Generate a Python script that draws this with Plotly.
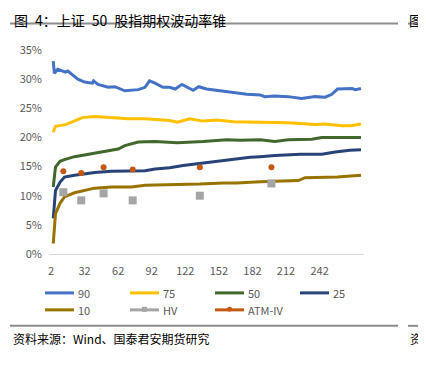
import plotly.graph_objects as go

# ---------------- data (values in %) ----------------
x90 = [4, 5, 8, 15, 17, 26, 32, 39, 40, 44, 53, 59, 68, 80, 86, 90, 95, 102, 108, 113, 119, 129, 134, 141,
       153, 165, 177, 189, 193, 202, 214, 226, 238, 247, 253, 258, 265, 271, 274, 279]
v90 = [33.1, 31.0, 31.7, 31.2, 31.4, 30.0, 29.5, 29.3, 29.7, 29.1, 28.6, 28.7, 28.0, 28.2, 28.6, 29.7, 29.3,
       28.6, 28.6, 28.3, 29.1, 28.1, 28.7, 28.3, 28.0, 27.7, 27.4, 27.3, 27.0, 27.1, 27.0, 26.7, 27.0, 26.9,
       27.4, 28.3, 28.4, 28.4, 28.2, 28.4]

x75 = [4, 6, 15, 24, 30, 41, 56, 71, 86, 108, 115, 126, 138, 150, 165, 189, 214, 238, 247, 262, 270, 279]
v75 = [20.9, 21.9, 22.2, 22.9, 23.4, 23.6, 23.4, 23.2, 23.2, 22.9, 22.6, 23.2, 22.8, 23.0, 22.7, 22.6, 22.5,
       22.2, 22.3, 22.0, 22.0, 22.3]

x50 = [4, 6, 10, 14, 23, 32, 41, 56, 62, 68, 75, 80, 95, 115, 138, 159, 171, 189, 202, 214, 235, 244, 279]
v50 = [11.5, 14.9, 15.9, 16.2, 16.7, 17.0, 17.3, 17.8, 18.0, 18.6, 18.9, 19.2, 19.3, 19.1, 19.3, 19.6, 19.5,
       19.6, 19.3, 19.6, 19.7, 20.0, 20.0]

x25 = [4, 6, 10, 14, 23, 32, 41, 56, 71, 86, 95, 108, 120, 132, 150, 162, 180, 189, 202, 225, 244, 256, 269, 279]
v25 = [6.1, 10.9, 12.3, 13.2, 13.5, 13.8, 14.0, 14.2, 14.3, 14.3, 14.6, 14.8, 15.2, 15.5, 15.9, 16.2, 16.6,
       16.7, 16.9, 17.1, 17.1, 17.5, 17.8, 17.9]

x10 = [4, 6, 10, 14, 23, 32, 41, 56, 74, 86, 115, 135, 156, 168, 189, 202, 223, 229, 244, 258, 279]
v10 = [1.8, 6.9, 8.7, 9.8, 10.5, 10.9, 11.3, 11.5, 11.5, 11.8, 11.9, 12.0, 12.2, 12.2, 12.4, 12.5, 12.6,
       13.1, 13.2, 13.2, 13.5]

x_pts = [13, 29, 49, 75, 135, 199]
hv = [10.6, 9.2, 10.4, 9.2, 10.0, 12.1]
atm_iv = [14.2, 13.9, 14.9, 14.5, 14.9, 14.9]

x_ticks = [2, 32, 62, 92, 122, 152, 182, 212, 242]
y_ticks = [0, 5, 10, 15, 20, 25, 30, 35]

series_names = ["90", "75", "50", "25", "10", "HV", "ATM-IV"]

title_text = "图\u20024：上证\u200250\u2002股指期权波动率锥"
source_text = "资料来源：Wind、国泰君安期货研究"

# ---------------- styles ----------------
FONT = "Noto Sans CJK SC"
OFF = 8                      # page body margin offset
W, H = 426 - OFF, 365 - OFF
ML, MT = 49 - OFF, 49.5 - OFF
PW, PH = 315, 204.5
MR, MB = W - ML - PW, H - MT - PH
COLORS = {"90": "#4472C4", "75": "#FFC000", "50": "#43682B", "25": "#264478",
          "10": "#997300", "HV": "#A5A5A5", "ATM-IV": "#C65911"}

def px2paper_x(px):
    return (px - OFF - ML) / PW

def py2paper_y(py):
    return 1 - (py - OFF - MT) / PH

fig = go.Figure()

for name, xs, ys in [("90", x90, v90), ("75", x75, v75), ("50", x50, v50),
                     ("25", x25, v25), ("10", x10, v10)]:
    fig.add_trace(go.Scatter(x=xs, y=ys, name=name, mode="lines",
                             line=dict(color=COLORS[name], width=3)))

fig.add_trace(go.Scatter(x=x_pts, y=hv, name="HV", mode="markers",
                         marker=dict(symbol="square", size=8, color=COLORS["HV"])))
fig.add_trace(go.Scatter(x=x_pts, y=atm_iv, name="ATM-IV", mode="markers",
                         marker=dict(symbol="circle", size=6, color=COLORS["ATM-IV"])))

fig.update_layout(
    width=W, height=H,
    margin=dict(l=ML, r=MR, t=MT, b=MB, autoexpand=False),
    paper_bgcolor="white", plot_bgcolor="white",
    font=dict(family=FONT, size=11, color="#595959"),
    showlegend=False,
    xaxis=dict(range=[0.2, 281.7], tickmode="array", tickvals=x_ticks,
               ticktext=[str(t) for t in x_ticks], showgrid=False, zeroline=False,
               showline=True, linecolor="#D9D9D9", linewidth=1, ticks="",
               ticklabelstandoff=7,
               tickfont=dict(size=11, color="#595959")),
    yaxis=dict(range=[0, 35], tickmode="array", tickvals=y_ticks,
               ticktext=[f"{t}%" for t in y_ticks], showgrid=False, zeroline=False,
               showline=False, ticks="", ticklabelstandoff=6,
               tickfont=dict(size=11, color="#595959")),
)

# ---------------- manual legend (Excel-like grid) ----------------
leg_pos = [(45, 293), (130, 293), (215, 293), (300, 293),
           (45, 310), (130, 310), (215, 310)]
for name, (lx, ly) in zip(series_names, leg_pos):
    col = COLORS[name]
    fig.add_shape(type="line", xref="paper", yref="paper",
                  x0=px2paper_x(lx), x1=px2paper_x(lx + 29),
                  y0=py2paper_y(ly), y1=py2paper_y(ly),
                  line=dict(color=col, width=3))
    if name == "HV":
        fig.add_shape(type="rect", xref="paper", yref="paper",
                      x0=px2paper_x(lx + 12), x1=px2paper_x(lx + 17),
                      y0=py2paper_y(ly - 3), y1=py2paper_y(ly + 2),
                      line=dict(width=0), fillcolor=col)
    if name == "ATM-IV":
        fig.add_shape(type="circle", xref="paper", yref="paper",
                      x0=px2paper_x(lx + 12), x1=px2paper_x(lx + 17),
                      y0=py2paper_y(ly - 3), y1=py2paper_y(ly + 2),
                      line=dict(width=0), fillcolor=col)
    fig.add_annotation(text=name, xref="paper", yref="paper",
                       x=px2paper_x(lx + 31), y=py2paper_y(ly), xanchor="left", yanchor="middle",
                       showarrow=False, font=dict(family=FONT, size=11, color="#595959"))

# ---------------- title, source, separator rules ----------------
fig.add_annotation(text=title_text, xref="paper", yref="paper",
                   x=px2paper_x(13), y=py2paper_y(8), xanchor="left", yanchor="top",
                   borderpad=0, showarrow=False,
                   font=dict(family=FONT, size=14, color="#000000"))
fig.add_annotation(text="图", xref="paper", yref="paper",
                   x=px2paper_x(408), y=py2paper_y(8), xanchor="left", yanchor="top",
                   borderpad=0, showarrow=False,
                   font=dict(family=FONT, size=13.5, color="#000000"))
fig.add_annotation(text=source_text, xref="paper", yref="paper",
                   x=px2paper_x(11), y=py2paper_y(339), xanchor="left", yanchor="middle",
                   showarrow=False, font=dict(family=FONT, size=12, color="#000000"))
fig.add_annotation(text="资", xref="paper", yref="paper",
                   x=px2paper_x(408), y=py2paper_y(339), xanchor="left", yanchor="middle",
                   showarrow=False, font=dict(family=FONT, size=12, color="#000000"))
for y_px in (23, 326):
    for x0, x1 in ((10, 398), (408, 426)):
        fig.add_shape(type="line", xref="paper", yref="paper",
                      x0=px2paper_x(x0), x1=px2paper_x(x1),
                      y0=py2paper_y(y_px), y1=py2paper_y(y_px),
                      line=dict(color="#8C8C8C", width=2))

fig.write_html("out.html")
